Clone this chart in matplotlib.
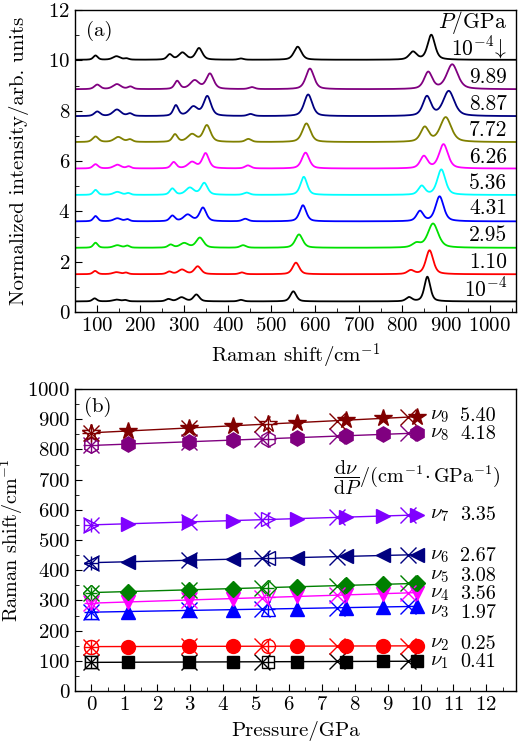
import numpy as np
import matplotlib
matplotlib.use('Agg')
import matplotlib.pyplot as plt
from matplotlib.ticker import MultipleLocator

plt.rcParams['font.family'] = ['cmr10', 'DejaVu Serif']
plt.rcParams['mathtext.fontset'] = 'cm'
plt.rcParams['axes.formatter.use_mathtext'] = True
plt.rcParams['font.size'] = 15

# ---- panel (a): Raman spectra, peaks ----
spec_labels = ['10$^{-4}$', '1.10', '2.95', '4.31', '5.36', '6.26', '7.72', '8.87', '9.89',
               '10$^{-4}\\!\\downarrow$']
spec_colors = ['black', '#ff0000', '#00e000', '#0000ff', '#00ffff', '#ff00ff', '#808000',
               '#000080', '#800080', 'black']
spec_offsets = [0.42, 1.5, 2.55, 3.6, 4.65, 5.7, 6.75, 7.78, 8.85, 10.02]
label_frac = [0.077, 0.166, 0.253, 0.342, 0.428, 0.514, 0.603, 0.688, 0.777, 0.874]

peak_pos = [
    [95, 145, 165, 264, 294, 328, 430, 550, 815, 857],
    [96, 145, 167, 266, 295, 331, 432, 556, 819, 862],
    [97, 147, 170, 269, 300, 336, 435, 563, 832, 870],
    [97, 147, 170, 273, 308, 343, 440, 572, 840, 885],
    [97, 147, 172, 273, 313, 346, 443, 574, 844, 889],
    [97, 147, 173, 276, 318, 349, 446, 578, 849, 894],
    [97, 149, 176, 279, 318, 352, 447, 580, 851, 899],
    [101, 146, 176, 281, 321, 353, 452, 584, 856, 906],
    [101, 146, 177, 284, 324, 359, 455, 588, 859, 914],
    [97, 145, 168, 267, 296, 334, 430, 560, 824, 866],
]
peak_amp = [
    [0.12, 0.07, 0.05, 0.09, 0.16, 0.27, 0.06, 0.40, 0.16, 0.98],
    [0.13, 0.08, 0.06, 0.10, 0.18, 0.31, 0.07, 0.46, 0.15, 0.95],
    [0.20, 0.10, 0.08, 0.12, 0.18, 0.40, 0.10, 0.53, 0.17, 0.96],
    [0.21, 0.12, 0.08, 0.22, 0.26, 0.54, 0.10, 0.64, 0.40, 0.99],
    [0.20, 0.12, 0.07, 0.25, 0.28, 0.47, 0.09, 0.72, 0.35, 1.01],
    [0.17, 0.15, 0.08, 0.25, 0.25, 0.60, 0.12, 0.63, 0.48, 0.96],
    [0.22, 0.20, 0.10, 0.30, 0.30, 0.66, 0.12, 0.74, 0.58, 0.98],
    [0.18, 0.26, 0.10, 0.42, 0.36, 0.78, 0.08, 0.86, 0.77, 0.99],
    [0.18, 0.20, 0.10, 0.32, 0.34, 0.61, 0.08, 0.82, 0.67, 0.98],
    [0.17, 0.14, 0.05, 0.21, 0.28, 0.46, 0.05, 0.52, 0.31, 0.99],
]
peak_wid = [
    [6, 10, 6, 7, 10, 8, 7, 8, 8, 8],
    [6, 10, 6, 7, 10, 9, 7, 9, 9, 10],
    [6, 10, 6, 7, 11, 10, 8, 10, 11, 14],
    [6, 10, 6, 7, 11, 9, 8, 9, 9, 11],
    [6, 10, 6, 7, 11, 9, 8, 9, 9, 11],
    [7, 10, 6, 7, 11, 9, 8, 10, 10, 12],
    [8, 11, 7, 7, 12, 10, 8, 11, 11, 15],
    [8, 11, 7, 7, 12, 10, 8, 11, 11, 15],
    [8, 11, 7, 7, 12, 10, 8, 11, 11, 15],
    [6, 10, 6, 7, 10, 9, 7, 10, 10, 10],
]

# ---- panel (b): mode frequencies vs pressure ----
P_up = [0.0001, 1.10, 2.95, 4.31, 6.26, 7.72, 8.87, 9.89]
P_open = [0.0001, 5.36]
P_x = [0.0, 2.95, 5.17, 7.45, 9.63]

nu_up = [
    [95, 95, 96, 96, 97, 97, 98, 99],
    [147, 147, 148, 148, 149, 149, 149, 150],
    [261, 263, 267, 269, 273, 276, 278, 280],
    [291, 295, 301, 306, 313, 318, 322, 326],
    [326, 329, 335, 339, 345, 350, 353, 356],
    [425, 428, 433, 436, 442, 446, 449, 451],
    [550, 554, 560, 564, 571, 576, 579, 583],
    [813, 818, 825, 831, 839, 845, 850, 854],
    [855, 861, 871, 878, 889, 897, 903, 908],
]
nu_open = [[95, 97], [147, 148], [261, 272], [291, 310], [326, 342],
           [425, 439], [550, 568], [813, 835], [855, 884]]
nu_x = [
    [95, 96, 97, 98, 99],
    [147, 148, 148, 149, 149],
    [261, 267, 271, 276, 280],
    [291, 301, 309, 318, 325],
    [326, 335, 342, 349, 356],
    [425, 433, 439, 445, 451],
    [550, 560, 567, 575, 582],
    [813, 825, 835, 844, 853],
    [855, 871, 883, 895, 907],
]
slopes = ['0.41', '0.25', '1.97', '3.56', '3.08', '2.67', '3.35', '4.18', '5.40']
mode_colors = ['black', '#ff0000', '#0000ff', '#ff00ff', '#008000', '#000080',
               '#8000ff', '#800080', '#800000']
mode_markers = ['s', 'o', '^', 'v', 'D', '<', '>', 'h', '*']
mode_ms = [9, 10, 10, 10, 8, 10, 10, 11, 13]
label_y = [97, 156, 264, 322, 382, 447, 583, 852, 912]
value_y = [95, 156, 258, 320, 382, 447, 583, 852, 912]

fig = plt.figure(figsize=(5.29, 7.47), dpi=100)
ax1 = fig.add_axes([75/529, 1 - 312/747, 441/529, 302/747])
ax2 = fig.add_axes([75/529, 1 - 691/747, 441/529, 302/747])

shift = np.arange(50, 1061, 0.5)
for i in range(len(spec_labels)):
    y = np.full_like(shift, spec_offsets[i])
    for p, a, w in zip(peak_pos[i], peak_amp[i], peak_wid[i]):
        u = (shift - p) / w
        y += a * (0.5 / (1 + u ** 2) + 0.5 * np.exp(-np.log(2) * u ** 2))
    ax1.plot(shift, y, color=spec_colors[i], lw=1.3)
    ax1.text(0.98, label_frac[i], spec_labels[i], transform=ax1.transAxes,
             ha='right', va='center', fontsize=15.5)
ax1.text(0.98, 0.96, '$P$/GPa', transform=ax1.transAxes, ha='right', va='center',
         fontsize=15.5)
ax1.text(0.025, 0.93, '(a)', transform=ax1.transAxes, ha='left', va='center', fontsize=15)

ax1.set_xlim(50, 1060)
ax1.set_ylim(0, 12)
ax1.xaxis.set_major_locator(MultipleLocator(100))
ax1.xaxis.set_minor_locator(MultipleLocator(50))
ax1.yaxis.set_major_locator(MultipleLocator(2))
ax1.yaxis.set_minor_locator(MultipleLocator(1))
ax1.set_xlabel('Raman shift/cm$^{-1}$', labelpad=5)
ax1.set_ylabel('Normalized intensity/arb. units')
ax1.yaxis.set_label_coords(-0.105, 0.5)

for i in range(9):
    c = mode_colors[i]
    m = mode_markers[i]
    ms = mode_ms[i]
    allp = P_up + P_open + P_x
    alln = nu_up[i] + nu_open[i] + nu_x[i]
    k, b = np.polyfit(allp, alln, 1)
    xx = np.array([0, max(P_up)])
    ax2.plot(xx, k * xx + b, color=c, lw=1.0, zorder=2)
    ax2.plot(P_up, nu_up[i], ls='none', marker=m, ms=ms, color=c, zorder=3)
    ax2.plot(P_open, nu_open[i], ls='none', marker=m, ms=ms, mfc='white', mec=c,
             mew=1.0, zorder=3)
    ax2.plot(P_open, nu_open[i], ls='none', marker='+', ms=ms, color=c, mew=1.0, zorder=4)
    ax2.plot(P_x, nu_x[i], ls='none', marker='x', ms=11, color=c, mew=1.0, zorder=4)
    ax2.text(10.3, label_y[i], '$\\nu_%d$' % (i + 1), ha='left', va='center', fontsize=15)
    ax2.text(11.2, value_y[i], slopes[i], ha='left', va='center', fontsize=14.5)

ax2.text(7.35, 706, '$\\dfrac{\\mathrm{d}\\nu}{\\mathrm{d}P}$/(cm$^{-1}\\!\\cdot$GPa$^{-1}$)',
         ha='left', va='center', fontsize=14.5)
ax2.text(0.02, 0.94, '(b)', transform=ax2.transAxes, ha='left', va='center', fontsize=15)

ax2.set_xlim(-0.5, 12.9)
ax2.set_ylim(0, 1000)
ax2.xaxis.set_major_locator(MultipleLocator(1))
ax2.xaxis.set_minor_locator(MultipleLocator(0.5))
ax2.yaxis.set_major_locator(MultipleLocator(100))
ax2.yaxis.set_minor_locator(MultipleLocator(50))
ax2.set_xlabel('Pressure/GPa', labelpad=5)
ax2.set_ylabel('Raman shift/cm$^{-1}$', fontsize=14.5)
ax2.yaxis.set_label_coords(-0.113, 0.5)

for ax in (ax1, ax2):
    ax.tick_params(which='both', direction='in', top=False, right=False, labelsize=15)
    ax.tick_params(which='major', length=5)
    ax.tick_params(which='minor', length=3)
    for s in ax.spines.values():
        s.set_linewidth(1.0)

fig.savefig('out.png', dpi=100)
